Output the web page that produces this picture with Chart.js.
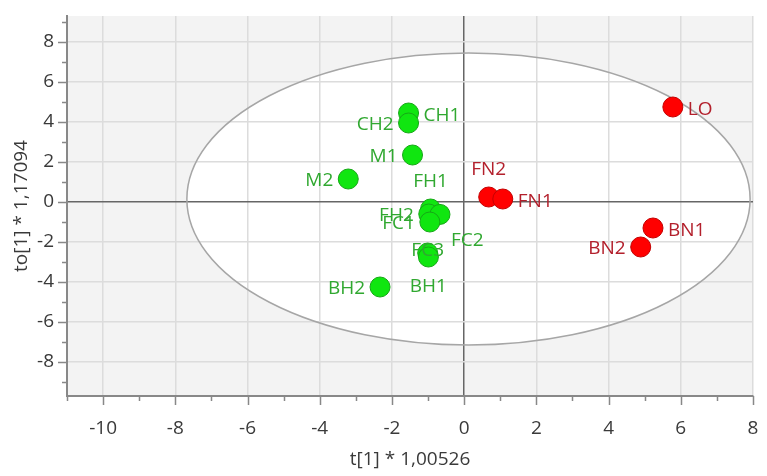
<!DOCTYPE html>
<html>
<head>
<meta charset="utf-8">
<script src="https://cdn.jsdelivr.net/npm/chart.js@4.4.1/dist/chart.umd.min.js"></script>
<style>
    html, body { margin: 0; padding: 0; background: #fff; }
</style>
</head>
<body>
<canvas id="scoreChart" width="767" height="476"></canvas>
<script>
// Nhóm xanh (green samples)
const greenNames = ['CH1', 'CH2', 'M1', 'M2', 'FH1', 'FH2', 'FC2', 'FC1', 'FC3', 'BH1', 'BH2'];
const greenT     = [-1.54, -1.54, -1.43, -3.21, -0.93, -0.98, -0.67, -0.95, -1.01, -0.99, -2.33];
const greenTo    = [ 4.45,  3.95,  2.35,  1.15, -0.35, -0.60, -0.62, -1.00, -2.55, -2.75, -4.25];

// Nhóm đỏ (red samples)
const redNames = ['LO', 'FN2', 'FN1', 'BN1', 'BN2'];
const redT     = [5.78, 0.68, 1.07, 5.23, 4.89];
const redTo    = [4.75, 0.25, 0.15, -1.30, -2.25];

// tick values (nhãn chỉ ở số chẵn)
const xTickValues = [-11, -10, -9, -8, -7, -6, -5, -4, -3, -2, -1, 0, 1, 2, 3, 4, 5, 6, 7, 8];
const yTickValues = [-9, -8, -7, -6, -5, -4, -3, -2, -1, 0, 1, 2, 3, 4, 5, 6, 7, 8, 9];

// Hotelling ellipse
const ellipseCenter = [0.12, 0.15];
const ellipseRadius = [7.8, 7.3];

// label placement
const labelSide = {
    CH1: 'right', CH2: 'left', M1: 'left', M2: 'left', FH1: 'top', FH2: 'left',
    FC1: 'left', FC2: 'bottomright', FC3: 'center', BH1: 'bottom', BH2: 'left',
    LO: 'right', FN2: 'top', FN1: 'right', BN1: 'right', BN2: 'left'
};

const FONT = "'Open Sans', sans-serif";
const FONT_SIZE = 19;

function toPoints(xs, ys) {
    return xs.map((x, i) => ({ x: x, y: ys[i] }));
}

function ellipsePath(chart) {
    const { ctx, scales: { x, y } } = chart;
    const cx = x.getPixelForValue(ellipseCenter[0]);
    const cy = y.getPixelForValue(ellipseCenter[1]);
    const rx = x.getPixelForValue(ellipseCenter[0] + ellipseRadius[0]) - cx;
    const ry = cy - y.getPixelForValue(ellipseCenter[1] + ellipseRadius[1]);
    ctx.beginPath();
    ctx.ellipse(cx, cy, rx, ry, 0, 0, Math.PI * 2);
}

// nền xám + ellipse trắng + tick marks
const backgroundPlugin = {
    id: 'background',
    beforeDraw(chart) {
        const { ctx, chartArea: a } = chart;
        ctx.save();
        ctx.fillStyle = '#f3f3f3';
        ctx.fillRect(a.left, a.top, a.right - a.left, a.bottom - a.top);
        ellipsePath(chart);
        ctx.fillStyle = '#ffffff';
        ctx.fill();
        ctx.restore();
    },
    beforeDatasetsDraw(chart) {
        const { ctx, chartArea: a, scales: { x, y } } = chart;
        ctx.save();
        ellipsePath(chart);
        ctx.strokeStyle = '#a6a6a6';
        ctx.lineWidth = 1.5;
        ctx.stroke();

        ctx.strokeStyle = '#888';
        ctx.lineWidth = 1.5;
        ctx.beginPath();
        x.ticks.forEach(t => {
            const px = Math.round(x.getPixelForValue(t.value)) + 0.5;
            const len = t.value % 2 === 0 ? 9 : 5;
            ctx.moveTo(px, a.bottom);
            ctx.lineTo(px, a.bottom + len);
        });
        y.ticks.forEach(t => {
            const py = Math.round(y.getPixelForValue(t.value)) + 0.5;
            const len = t.value % 2 === 0 ? 9 : 5;
            ctx.moveTo(a.left, py);
            ctx.lineTo(a.left - len, py);
        });
        ctx.stroke();
        ctx.restore();
    }
};

// nhãn cho từng điểm
const labelPlugin = {
    id: 'pointLabels',
    afterDatasetsDraw(chart) {
        const ctx = chart.ctx;
        ctx.save();
        ctx.font = FONT_SIZE + 'px ' + FONT;
        ctx.textBaseline = 'middle';
        chart.data.datasets.forEach((ds, di) => {
            const meta = chart.getDatasetMeta(di);
            meta.data.forEach((el, i) => {
                const name = ds.names[i];
                const side = labelSide[name] || 'right';
                let lx = el.x, ly = el.y, align = 'left';
                if (side === 'right') { lx += 15; ly += 3; align = 'left'; }
                if (side === 'left') { lx -= 15; ly += 2; align = 'right'; }
                if (side === 'top') { ly -= 27; align = 'center'; }
                if (side === 'bottom') { ly += 30; align = 'center'; }
                if (side === 'bottomright') { lx += 11; ly += 26; align = 'left'; }
                if (side === 'center') { ly -= 2; align = 'center'; }
                ctx.textAlign = align;
                ctx.fillStyle = ds.labelColor;
                ctx.fillText(name, lx, ly);
            });
        });
        ctx.restore();
    }
};

const gridColor = c => c.tick.value === 0 ? '#666' : (c.tick.value % 2 === 0 ? '#dcdcdc' : 'rgba(0,0,0,0)');

const ctx = document.getElementById('scoreChart').getContext('2d');
new Chart(ctx, {
    type: 'scatter',
    data: {
        datasets: [{
            names: redNames,
            labelColor: '#b3202c',
            data: toPoints(redT, redTo),
            backgroundColor: '#ff0000',
            borderColor: '#c40000',
            borderWidth: 1,
            pointRadius: 10,
            pointHoverRadius: 10
        }, {
            names: greenNames,
            labelColor: '#30a830',
            data: toPoints(greenT, greenTo),
            backgroundColor: '#10e610',
            borderColor: '#16a816',
            borderWidth: 1,
            pointRadius: 10,
            pointHoverRadius: 10
        }]
    },
    options: {
        responsive: false,
        animation: false,
        layout: { padding: { top: 16, right: 14, left: 0, bottom: 0 } },
        plugins: {
            legend: { display: false },
            tooltip: { enabled: false }
        },
        scales: {
            x: {
                type: 'linear',
                min: -11,
                max: 8,
                afterBuildTicks: s => { s.ticks = xTickValues.map(v => ({ value: v })); },
                afterFit: s => { s.height = 80; s.paddingLeft = 0; s.paddingRight = 0; },
                ticks: {
                    autoSkip: false,
                    maxRotation: 0,
                    padding: 21,
                    color: '#3a3a3a',
                    font: { family: FONT, size: FONT_SIZE },
                    callback: v => (v % 2 === 0 ? v : '')
                },
                grid: { drawTicks: false, color: gridColor, lineWidth: 1.5 },
                border: { color: '#888', width: 2 },
                title: {
                    display: true,
                    text: 't[1] * 1,00526',
                    color: '#3a3a3a',
                    font: { family: FONT, size: FONT_SIZE },
                    padding: { top: 0, bottom: 5 }
                }
            },
            y: {
                type: 'linear',
                min: -9.7,
                max: 9.3,
                afterBuildTicks: s => { s.ticks = yTickValues.map(v => ({ value: v })); },
                afterFit: s => { s.width = 67; s.paddingTop = 0; s.paddingBottom = 0; },
                ticks: {
                    autoSkip: false,
                    padding: 13,
                    color: '#3a3a3a',
                    font: { family: FONT, size: FONT_SIZE },
                    callback: v => (v % 2 === 0 ? v : '')
                },
                grid: { drawTicks: false, color: gridColor, lineWidth: 1.5 },
                border: { color: '#888', width: 2 },
                title: {
                    display: true,
                    text: 'to[1] * 1,17094',
                    color: '#3a3a3a',
                    font: { family: FONT, size: FONT_SIZE },
                    padding: { top: 10, bottom: 0 }
                }
            }
        }
    },
    plugins: [backgroundPlugin, labelPlugin]
});
</script>
</body>
</html>
